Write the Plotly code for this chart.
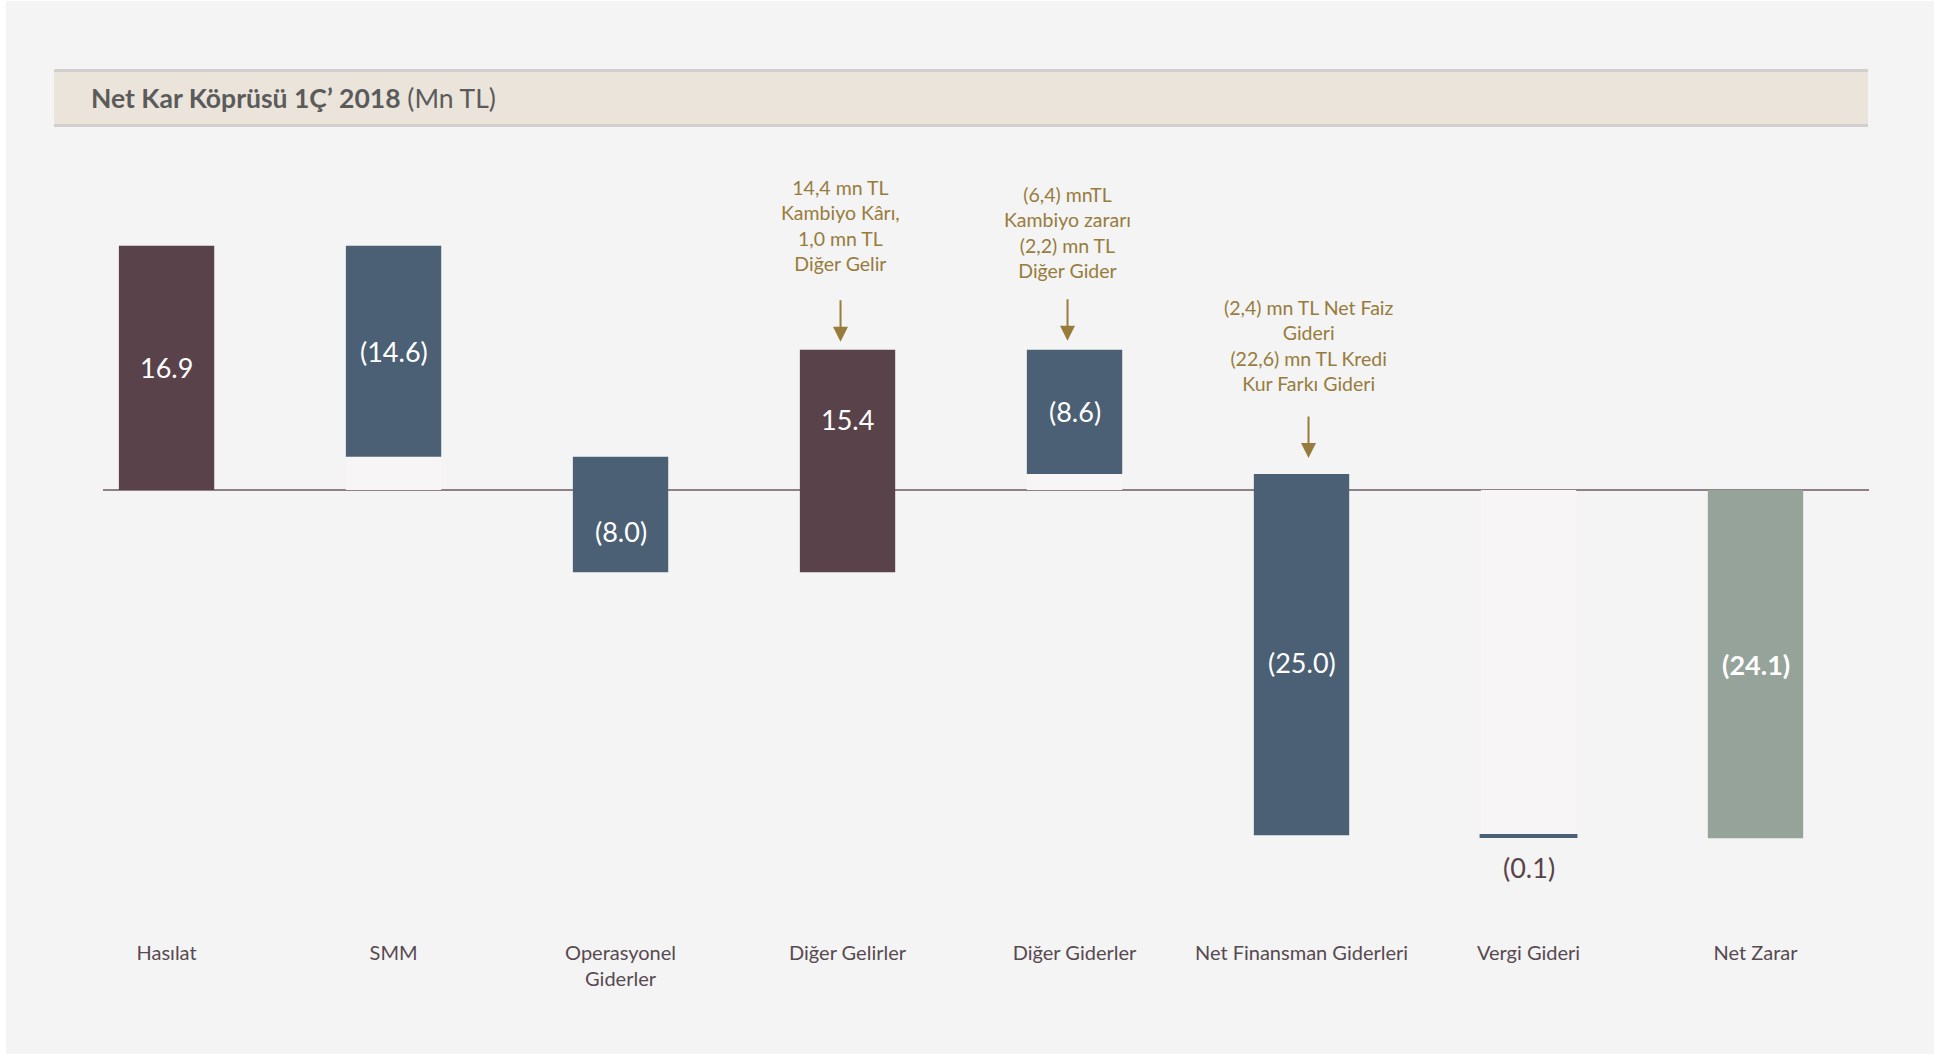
import numpy as np
import plotly.graph_objects as go

# ---------------- data ----------------
categories = ["Hasılat", "SMM", "Operasyonel<br>Giderler", "Diğer Gelirler",
              "Diğer Giderler", "Net Finansman Giderleri", "Vergi Gideri", "Net Zarar"]
deltas = [16.9, -14.6, -8.0, 15.4, -8.6, -25.0, -0.1]
total_value = -24.1
value_labels = ["16.9", "(14.6)", "(8.0)", "15.4", "(8.6)", "(25.0)", "(0.1)", "(24.1)"]
note_index = [3, 4, 5]
note_texts = [
    "14,4 mn TL<br>Kambiyo Kârı,<br>1,0 mn TL<br>Diğer Gelir",
    "(6,4) mnTL<br>Kambiyo zararı<br>(2,2) mn TL<br>Diğer Gider",
    "(2,4) mn TL Net Faiz<br>Gideri<br>(22,6) mn TL Kredi<br>Kur Farkı Gideri",
]

# ---------------- styles ----------------
FONT = "Lato"
C_POS = "#5a424a"
C_NEG = "#4b6075"
C_TOT = "#95a39b"
C_NOTE = "#977c3c"
C_TXT = "#574a50"
C_BG = "#f4f4f4"

W, H = 1947, 1054
PL, PT = 103, 130
PW, PH = 1766, 809
PXU = 14.45  # pixels per unit
ZERO_PX = 490

def px_x(px):
    return (px - PL) / PW

def px_y(py):
    return (PT + PH - py) / PH

# ---------------- waterfall geometry from data ----------------
d = np.array(deltas)
ends = np.cumsum(d)
starts = np.concatenate([[0.0], ends[:-1]])
n = len(categories)
xs = np.arange(n)
bases = list(starts) + [0.0]
heights = list(d) + [total_value]
colors = [C_POS if v > 0 else C_NEG for v in deltas] + [C_TOT]
line_w = [0] * n
line_w[6] = 2.5  # tiny tax bar drawn as a visible stroke

# faint "invisible" base segments (as in the source stacked chart)
ghost = []
for s, e in zip(starts, ends):
    if s * e > 0 and s != 0:
        ghost.append(np.sign(s) * min(abs(s), abs(e)))
    else:
        ghost.append(0.0)
ghost.append(0.0)

fig = go.Figure()
fig.add_trace(go.Bar(x=xs, y=ghost, width=0.42, marker=dict(color="#f7f5f6", line=dict(width=0)),
                     hoverinfo="skip", showlegend=False))
fig.add_trace(go.Bar(x=xs, y=heights, base=bases, width=0.42,
                     marker=dict(color=colors, line=dict(color=colors, width=line_w)),
                     hoverinfo="skip", showlegend=False))
fig.update_layout(barmode="overlay")

annotations = []
# value labels
for i in range(n):
    lo = min(bases[i], bases[i] + heights[i])
    hi = max(bases[i], bases[i] + heights[i])
    if lo < 0 < hi:
        yc = hi / 2 if hi >= -lo else lo / 2
    else:
        yc = (lo + hi) / 2
    txt = value_labels[i]
    color = "white"
    yshift = 0
    if abs(heights[i]) < 1:
        yc = lo
        yshift = -31
        color = C_POS
    if i == n - 1:
        txt = "<b>" + txt + "</b>"
    annotations.append(dict(x=xs[i], y=yc, xref="x", yref="y", text=txt, showarrow=False,
                            yshift=yshift, font=dict(family=FONT, size=27, color=color),
                            xanchor="center", yanchor="middle"))

# notes with arrows
note_xshift = [-7, -7, 7]
note_text_shift = [124, 117, 129]
note_tip_shift = [8, 9, 16]
for k, idx in enumerate(note_index):
    top = max(bases[idx], bases[idx] + heights[idx])
    annotations.append(dict(x=xs[idx], y=top, xref="x", yref="y", text=note_texts[k],
                            showarrow=False, xshift=note_xshift[k], yshift=note_text_shift[k],
                            font=dict(family=FONT, size=19.5, color=C_NOTE),
                            xanchor="center", yanchor="middle", align="center"))
    annotations.append(dict(x=xs[idx], y=top, xref="x", yref="y", text="",
                            showarrow=True, arrowhead=2, arrowsize=1.5, arrowwidth=2,
                            arrowcolor=C_NOTE, ax=0, ay=-43, standoff=0,
                            xshift=note_xshift[k], yshift=note_tip_shift[k]))

# title
annotations.append(dict(x=px_x(89), y=px_y(98), xref="paper", yref="paper",
                        text="<b>Net Kar Köprüsü 1Ç’ 2018</b> (Mn TL)", showarrow=False,
                        xanchor="left", yanchor="middle",
                        font=dict(family=FONT, size=26.5, color="#5b5b5b")))

shapes = [
    dict(type="rect", xref="paper", yref="paper", x0=px_x(6), x1=px_x(1934),
         y0=px_y(1060), y1=px_y(1), fillcolor=C_BG, line=dict(width=0), layer="below"),
    dict(type="rect", xref="paper", yref="paper", x0=px_x(54), x1=px_x(1868),
         y0=px_y(127), y1=px_y(69), fillcolor="#ebe4da", line=dict(width=0), layer="below"),
    dict(type="line", xref="paper", yref="paper", x0=px_x(54), x1=px_x(1868),
         y0=px_y(70.5), y1=px_y(70.5), line=dict(color="#d4cfcf", width=3), layer="below"),
    dict(type="line", xref="paper", yref="paper", x0=px_x(54), x1=px_x(1868),
         y0=px_y(125.5), y1=px_y(125.5), line=dict(color="#d4cfcf", width=3), layer="below"),
]

fig.update_layout(
    width=W, height=H,
    margin=dict(l=PL, r=W - PL - PW, t=PT, b=H - PT - PH, pad=0),
    paper_bgcolor="white",
    plot_bgcolor="rgba(0,0,0,0)",
    annotations=annotations,
    shapes=shapes,
    showlegend=False,
    xaxis=dict(range=[-0.28, 7.5], tickmode="array", tickvals=list(xs), ticktext=categories,
               showgrid=False, zeroline=False, showline=False, ticks="",
               tickfont=dict(family=FONT, size=20, color=C_TXT), fixedrange=True),
    yaxis=dict(range=[(ZERO_PX - (PT + PH)) / PXU, (ZERO_PX - PT) / PXU],
               showgrid=False, showticklabels=False, ticks="", showline=False,
               zeroline=True, zerolinecolor="#8e8087", zerolinewidth=2, fixedrange=True),
)

fig.write_html("out.html", config={"displayModeBar": False},
               post_script="document.body.style.margin='0';document.body.style.overflow='hidden';")
